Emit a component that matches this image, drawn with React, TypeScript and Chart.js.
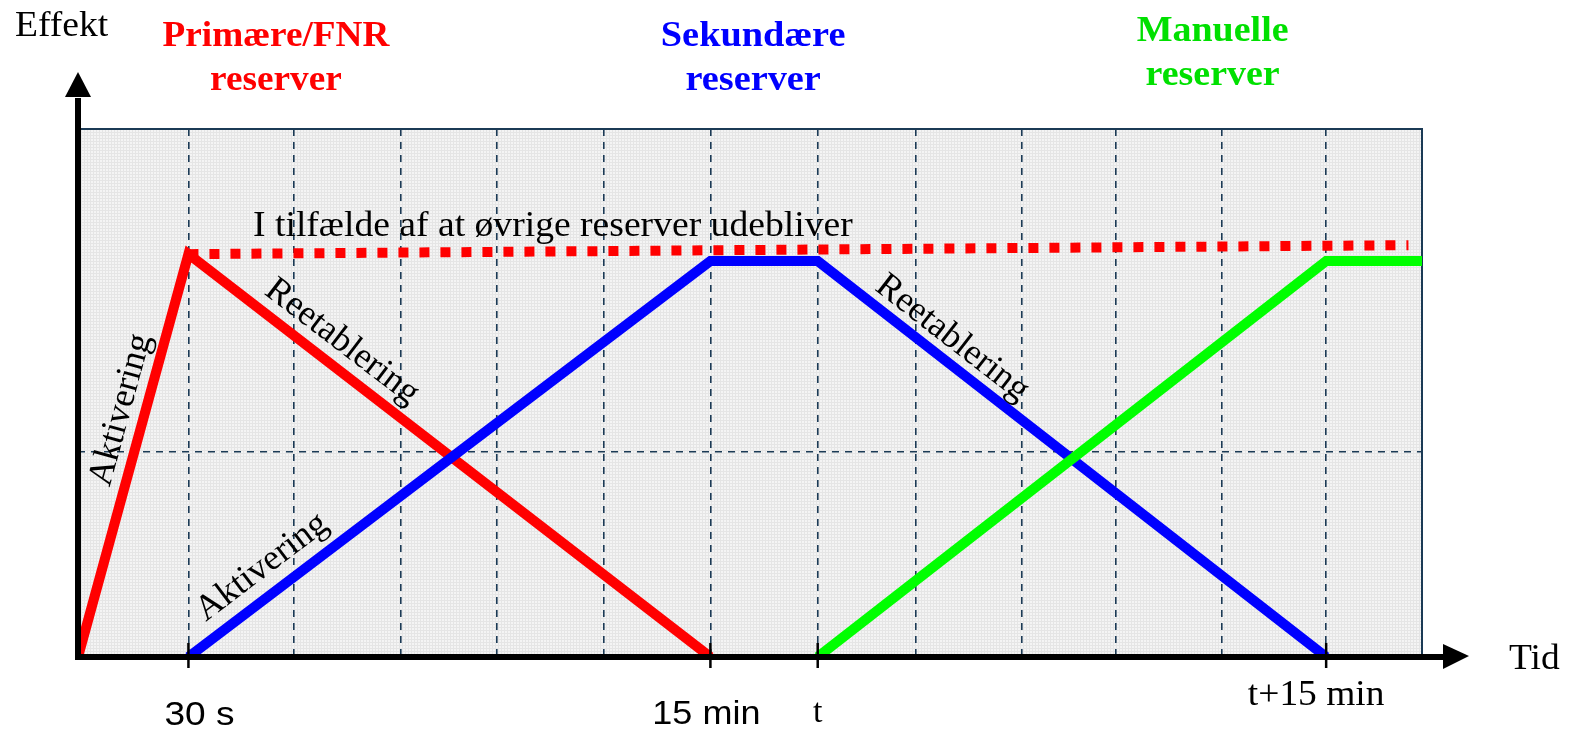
import React, { useEffect, useRef } from "react";
import { Chart, registerables } from "chart.js";

Chart.register(...registerables);

// ---- data (x in grid units, y in percent of plot height) ----
const xGrid = [1.06, 2.07, 3.1, 4.02, 5.05, 6.07, 7.1, 8.04, 9.06, 9.96, 10.98, 11.98];
const yGrid = [38.8];

const primaryX = [0, 1.06, 6.07];
const primaryY = [0, 76.3, 0];
const primaryHoldX = [1.06, 12.77];
const primaryHoldY = [76.3, 78.0];
const secondaryX = [1.06, 6.07, 7.1, 11.98];
const secondaryY = [0, 75, 75, 0];
const manualX = [7.1, 11.98, 12.93];
const manualY = [0, 75, 75];

const tickValues = [1.06, 6.07, 7.1, 11.98];
const tickLabels = ["30 s", "15 min", "t", "t+15 min"];

const titleLines = [
  ["Primære/FNR", "reserver"],
  ["Sekundære", "reserver"],
  ["Manuelle", "reserver"],
];
const titleX = [1.9, 6.48, 10.89];

const curveLabels = ["Aktivering", "Reetablering", "Aktivering", "Reetablering"];
const noteLabel = "I tilfælde af at øvrige reserver udebliver";

// ---- layout / style (not data) ----
const SERIF = '"Liberation Serif", "Times New Roman", serif';
const SANS = '"Liberation Sans", Arial, sans-serif';
const NAVY = "#1b3a55";
const RED = "#ff0000";
const BLUE = "#0000ff";
const GREEN = "#00ff00";
const GREEN_TEXT = "#00e000";
const titleColors = [RED, BLUE, GREEN_TEXT];
const titleStretch = [1.035, 1.065, 1.055];
const titleBaselines = [
  [46, 90],
  [46, 90],
  [41, 85],
];
const curveLabelPos = [
  { x: 0.413, y: 46.8, angle: -74.7 },
  { x: 2.535, y: 59.7, angle: 37.4 },
  { x: 1.767, y: 17.0, angle: -37.2 },
  { x: 8.39, y: 60.4, angle: 37.8 },
];
const notePos = { x: 1.68, y: 79.7 };
const tickLabelStyle = [
  { font: `34px ${SANS}`, dx: 11, baseline: 725, sx: 1.09 },
  { font: `34px ${SANS}`, dx: -4, baseline: 724, sx: 1.06 },
  { font: `34px ${SERIF}`, dx: 0, baseline: 722, sx: 1.0 },
  { font: `35px ${SERIF}`, dx: -10, baseline: 705, sx: 1.07 },
];

const zip = (xs: number[], ys: number[]) => xs.map((x, i) => ({ x, y: ys[i] }));

function stretchText(ctx: any, t: string, x: number, y: number, sx: number) {
  ctx.save();
  ctx.translate(x, y);
  ctx.scale(sx, 1);
  ctx.fillText(t, 0, 0);
  ctx.restore();
}

const decorPlugin = {
  id: "decor",
  beforeDraw(chart: any) {
    const { ctx, chartArea: ca } = chart;
    const pc = document.createElement("canvas");
    pc.width = 3;
    pc.height = 3;
    const p = pc.getContext("2d")!;
    p.fillStyle = "#f4f4f4";
    p.fillRect(0, 0, 3, 3);
    p.fillStyle = "#e5e5e5";
    p.fillRect(0, 0, 3, 1);
    p.fillRect(0, 0, 1, 3);
    ctx.save();
    ctx.fillStyle = "#ffffff";
    ctx.fillRect(0, 0, chart.width, chart.height);
    ctx.fillStyle = ctx.createPattern(pc, "repeat");
    ctx.fillRect(ca.left, ca.top, ca.right - ca.left, ca.bottom - ca.top);
    ctx.restore();
  },
  beforeDatasetsDraw(chart: any) {
    const { ctx, chartArea: ca } = chart;
    ctx.save();
    ctx.strokeStyle = NAVY;
    ctx.lineWidth = 2;
    ctx.strokeRect(ca.left, ca.top, ca.right - ca.left, ca.bottom - ca.top);
    ctx.restore();
  },
  afterDraw(chart: any) {
    const { ctx, chartArea: ca, scales } = chart;
    const xs = scales.x;
    const ys = scales.y;
    const x0 = xs.getPixelForValue(0);
    const y0 = ys.getPixelForValue(0);
    ctx.save();
    // axes
    ctx.strokeStyle = "#000";
    ctx.fillStyle = "#000";
    ctx.lineWidth = 6;
    ctx.lineCap = "butt";
    ctx.beginPath();
    ctx.moveTo(x0, y0 + 3);
    ctx.lineTo(x0, ca.top - 31);
    ctx.stroke();
    ctx.beginPath();
    ctx.moveTo(x0, ca.top - 57);
    ctx.lineTo(x0 - 13, ca.top - 32);
    ctx.lineTo(x0 + 13, ca.top - 32);
    ctx.closePath();
    ctx.fill();
    ctx.beginPath();
    ctx.moveTo(x0 - 3, y0);
    ctx.lineTo(ca.right + 22, y0);
    ctx.stroke();
    ctx.beginPath();
    ctx.moveTo(ca.right + 47, y0 - 1);
    ctx.lineTo(ca.right + 21, y0 - 13);
    ctx.lineTo(ca.right + 21, y0 + 12);
    ctx.closePath();
    ctx.fill();

    // tick marks + labels
    ctx.lineWidth = 2.5;
    tickValues.forEach((v, i) => {
      const px = xs.getPixelForValue(v);
      ctx.beginPath();
      ctx.moveTo(px, y0 - 14);
      ctx.lineTo(px, y0 + 11);
      ctx.stroke();
      const st = tickLabelStyle[i];
      ctx.font = st.font;
      ctx.textAlign = "center";
      ctx.textBaseline = "alphabetic";
      stretchText(ctx, tickLabels[i], px + st.dx, st.baseline, st.sx);
    });

    // axis titles
    ctx.font = `36px ${SERIF}`;
    ctx.textAlign = "left";
    stretchText(ctx, "Effekt", 15, 36, 1.045);
    stretchText(ctx, "Tid", ca.right + 87, y0 + 12, 1.04);

    // group titles
    titleLines.forEach((lines, i) => {
      ctx.fillStyle = titleColors[i];
      ctx.font = `bold 36px ${SERIF}`;
      ctx.textAlign = "center";
      const cx = xs.getPixelForValue(titleX[i]);
      lines.forEach((t, j) => stretchText(ctx, t, cx, titleBaselines[i][j], titleStretch[i]));
    });

    // note
    ctx.fillStyle = "#000";
    ctx.font = `35px ${SERIF}`;
    ctx.textAlign = "left";
    stretchText(ctx, noteLabel, xs.getPixelForValue(notePos.x), ys.getPixelForValue(notePos.y), 1.075);

    // curve labels
    ctx.font = `36px ${SERIF}`;
    ctx.textAlign = "center";
    ctx.textBaseline = "middle";
    curveLabels.forEach((t, i) => {
      const pos = curveLabelPos[i];
      ctx.save();
      ctx.translate(xs.getPixelForValue(pos.x), ys.getPixelForValue(pos.y));
      ctx.rotate((pos.angle * Math.PI) / 180);
      ctx.fillText(t, 0, 0);
      ctx.restore();
    });
    ctx.restore();
  },
};

export default function App() {
  const ref = useRef<HTMLCanvasElement | null>(null);
  useEffect(() => {
    document.body.style.margin = "0";
    const canvas = ref.current!;
    const gridStyle = { color: NAVY, lineWidth: 1.6, drawTicks: false };
    const chart = new Chart(canvas, {
      type: "line",
      data: {
        datasets: [
          {
            label: "Manuelle",
            data: zip(manualX, manualY),
            borderColor: GREEN,
            borderWidth: 10,
            order: 0,
          },
          {
            label: "Sekundære",
            data: zip(secondaryX, secondaryY),
            borderColor: BLUE,
            borderWidth: 10,
            order: 1,
          },
          {
            label: "Primære",
            data: zip(primaryX, primaryY),
            borderColor: RED,
            borderWidth: 10,
            order: 2,
          },
          {
            label: "Primære (hold)",
            data: zip(primaryHoldX, primaryHoldY),
            borderColor: RED,
            borderWidth: 10,
            borderDash: [10, 11],
            order: 3,
          },
        ],
      },
      options: {
        animation: false,
        responsive: false,
        devicePixelRatio: 1,
        layout: { padding: { left: 78, right: 148, top: 129, bottom: 76 } },
        plugins: { legend: { display: false }, tooltip: { enabled: false } },
        elements: {
          point: { radius: 0 },
          line: { tension: 0, borderCapStyle: "butt", borderJoinStyle: "miter", fill: false },
        },
        scales: {
          x: {
            type: "linear",
            min: 0,
            max: 12.9,
            afterBuildTicks: (s: any) => {
              s.ticks = xGrid.map((v) => ({ value: v }));
            },
            ticks: { display: false },
            grid: gridStyle,
            border: { display: false, dash: [7, 6] },
          },
          y: {
            type: "linear",
            min: 0,
            max: 100,
            afterBuildTicks: (s: any) => {
              s.ticks = yGrid.map((v) => ({ value: v }));
            },
            ticks: { display: false },
            grid: gridStyle,
            border: { display: false, dash: [7, 6] },
          },
        },
      } as any,
      plugins: [decorPlugin],
    });
    return () => chart.destroy();
  }, []);
  return <canvas ref={ref} width={1570} height={733} style={{ display: "block" }} />;
}
